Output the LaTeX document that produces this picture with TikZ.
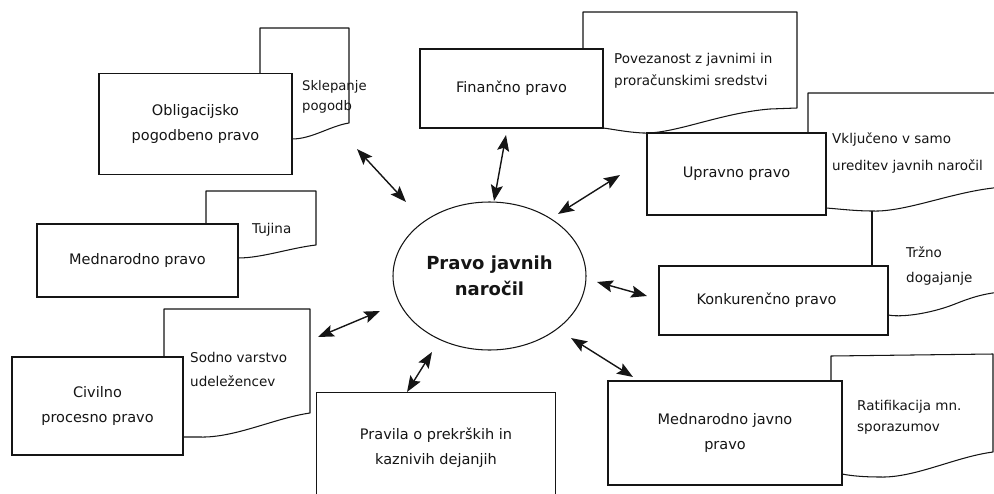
\documentclass[tikz,border=0pt]{standalone}
\usepackage{fontspec}
\setmainfont{DejaVu Sans}
\usetikzlibrary{arrows.meta,shapes.geometric}
\definecolor{ink}{HTML}{151515}
\begin{document}
\begin{tikzpicture}[x=1pt,y=-1pt,color=ink,
  box/.style={draw=ink, fill=white, rectangle, line width=1.05pt, inner sep=0pt, align=center,
    font=\fontsize{14.5}{24.5}\selectfont, text=ink},
  doc/.style={draw=ink, fill=white, line width=1.05pt, line join=round},
  edge/.style={line width=1.05pt},
  note/.style={anchor=west, align=left, inner sep=0pt, text=ink},
  link/.style={{Stealth[length=16pt,width=12pt,inset=3pt]}-{Stealth[length=16pt,width=12pt,inset=3pt]},
    line width=1.4pt, draw=ink}]
\useasboundingbox (0,0) rectangle (994,493);
\clip (0,0) rectangle (994,493);

% --- document shapes (drawn behind the boxes) ---
\draw[doc] (260,110) -- (260,28) -- (349,28) -- (349,123)
  .. controls (330,126) and (312,139) .. (292,139) -- (270,139) -- cycle;
\draw[doc] (583,70) -- (583,12) -- (797,12) -- (797,108) -- (770,109)
  .. controls (720,113) and (675,134) .. (643,133)
  .. controls (625,132) and (612,129) .. (603,128) -- (590,100) -- cycle;
\draw[doc] (808,150) -- (808,93) -- (1000,93) -- (1000,187) -- (993,188)
  .. controls (950,193) and (905,212) .. (873,211)
  .. controls (855,211) and (840,209) .. (826,208) -- (815,180) -- cycle;
\draw[edge] (872,211) -- (872,266);
\draw[edge] (888,315) .. controls (905,318) and (935,312) .. (955,304)
  .. controls (970,298) and (982,294) .. (1000,292);
\draw[doc] (206,235) -- (206,191) -- (316,191) -- (316,245)
  .. controls (290,248) and (262,258) .. (238,258) -- (225,240) -- cycle;
\draw[doc] (164,370) -- (164,309) -- (310,309) -- (310,413)
  .. controls (275,418) and (235,438) .. (200,437) -- (183,437) -- (170,400) -- cycle;
\draw[doc] (831,395) -- (831,356) -- (993,354) -- (993,452)
  .. controls (955,457) and (915,478) .. (880,477)
  .. controls (865,477) and (852,476) .. (842,474) -- (835,420) -- cycle;

% --- main boxes ---
\node[box, minimum width=193pt, minimum height=101pt] (obl) at (195.5,124) {Obligacijsko\\pogodbeno pravo};
\node[box, minimum width=183pt, minimum height=79pt] (fin) at (511.5,88.5) {Finančno pravo};
\node[box, minimum width=179pt, minimum height=82pt] (upr) at (736.5,174) {Upravno pravo};
\node[box, minimum width=229pt, minimum height=69pt] (kon) at (773.5,300.5) {Konkurenčno pravo\hspace*{14pt}};
\node[box, minimum width=201pt, minimum height=73pt] (med) at (137.5,260.5) {Mednarodno pravo};
\node[box, minimum width=171pt, minimum height=98pt] (civ) at (97.5,406) {Civilno\\procesno pravo};
\node[box, minimum width=234pt, minimum height=104pt] (mjp) at (725,433) {Mednarodno javno\\pravo};
\node[box, draw=none, fill=white, minimum width=238pt, minimum height=109pt] (pra) at (436,447.5) {Pravila o prekrških in\\kaznivih dejanjih};
\draw[edge] (pra.south west) -- (pra.north west) -- (pra.north east) -- (pra.south east);

% --- notes in the document shapes ---
\node[note, font=\fontsize{13.2}{20}\selectfont] (sklT) at (302,97) {Sklepanje\\pogodb};
\node[note, font=\fontsize{13.5}{22}\selectfont] (povT) at (614,71) {Povezanost z javnimi in\\proračunskimi sredstvi};
\node[note, font=\fontsize{13.5}{27}\selectfont] (vklT) at (832,153.5) {Vključeno v samo\\ureditev javnih naročil};
\node[note, font=\fontsize{13.5}{25}\selectfont] (trzT) at (906,266.5) {Tržno\\dogajanje};
\node[note, font=\fontsize{13.5}{22}\selectfont] (tujT) at (252,230) {Tujina};
\node[note, font=\fontsize{13.5}{24}\selectfont] (sodT) at (190,369) {Sodno varstvo\\udeležencev};
\node[note, font=\fontsize{13.5}{21}\selectfont] (ratT) at (857,417.5) {Ratifikacija mn.\\sporazumov};

% --- central ellipse ---
\node[draw=ink, ellipse, line width=1.05pt, minimum width=193pt, minimum height=148pt, inner sep=0pt,
  align=center, text=ink, font=\bfseries\fontsize{18}{26}\selectfont] (pjn) at (489.5,276) {Pravo javnih\\naročil};

% --- connector end points ---
\coordinate (oblE) at (357,149);   \coordinate (oblC) at (406,202);
\coordinate (finE) at (506,135);   \coordinate (finC) at (494,201);
\coordinate (uprE) at (620,175);   \coordinate (uprC) at (558,214);
\coordinate (konE) at (647,296);   \coordinate (konC) at (597,282);
\coordinate (mjpE) at (633,377);   \coordinate (mjpC) at (571,338);
\coordinate (praE) at (407,392);   \coordinate (praC) at (432,352);
\coordinate (civE) at (318,337);   \coordinate (civC) at (380,311);

\draw[link] (oblE) -- (oblC);
\draw[link] (finE) -- (finC);
\draw[link] (uprE) -- (uprC);
\draw[link] (konE) -- (konC);
\draw[link] (mjpE) -- (mjpC);
\draw[link] (praE) -- (praC);
\draw[link] (civE) -- (civC);
\end{tikzpicture}
\end{document}
